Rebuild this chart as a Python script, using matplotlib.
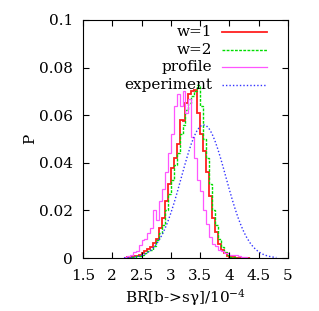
import numpy as np
import matplotlib
matplotlib.use("Agg")
import matplotlib.pyplot as plt
from matplotlib.lines import Line2D

plt.rcParams['font.family'] = ['DejaVu Serif']
plt.rcParams['mathtext.default'] = 'regular'
plt.rcParams['font.size'] = 11

#
# DATA
#

# histogram bins: left edge 2.20, width 0.05
bin_start = 2.20
bin_width = 0.05

w1 = [0.0002, 0.0003, 0.0005, 0.0007, 0.0010, 0.0015, 0.0022, 0.0030, 0.0040,
      0.0046, 0.0065, 0.0080, 0.0125, 0.0170, 0.0240, 0.0310, 0.0380, 0.0420,
      0.0480, 0.0580, 0.0575, 0.0650, 0.0690, 0.0700, 0.0705, 0.0610, 0.0520,
      0.0450, 0.0360, 0.0260, 0.0170, 0.0110, 0.0060, 0.0035, 0.0020, 0.0010,
      0.0005, 0.0003, 0.0002, 0.0001, 0.0, 0.0, 0.0]

w2 = [0.0001, 0.0002, 0.0003, 0.0005, 0.0007, 0.0010, 0.0015, 0.0020, 0.0028,
      0.0035, 0.0050, 0.0075, 0.0105, 0.0140, 0.0200, 0.0270, 0.0330, 0.0390,
      0.0440, 0.0520, 0.0560, 0.0620, 0.0650, 0.0680, 0.0700, 0.0725, 0.0640,
      0.0500, 0.0420, 0.0310, 0.0200, 0.0140, 0.0080, 0.0045, 0.0025, 0.0012,
      0.0006, 0.0003, 0.0002, 0.0001, 0.0, 0.0, 0.0]

profile = [0.0005, 0.0010, 0.0015, 0.0025, 0.0030, 0.0055, 0.0075, 0.0080,
           0.0105, 0.0125, 0.0200, 0.0160, 0.0240, 0.0290, 0.0360, 0.0440,
           0.0520, 0.0640, 0.0690, 0.0640, 0.0700, 0.0610, 0.0670, 0.0510,
           0.0420, 0.0330, 0.0280, 0.0200, 0.0145, 0.0090, 0.0060, 0.0050,
           0.0035, 0.0030, 0.0020, 0.0020, 0.0015, 0.0012, 0.0012, 0.0008,
           0.0006, 0.0004, 0.0002]

# experimental curve, sampled every 0.05 from 2.20 to 4.80
exp_x = [2.20, 2.25, 2.30, 2.35, 2.40, 2.45, 2.50, 2.55, 2.60, 2.65, 2.70,
         2.75, 2.80, 2.85, 2.90, 2.95, 3.00, 3.05, 3.10, 3.15, 3.20, 3.25,
         3.30, 3.35, 3.40, 3.45, 3.50, 3.55, 3.60, 3.65, 3.70, 3.75, 3.80,
         3.85, 3.90, 3.95, 4.00, 4.05, 4.10, 4.15, 4.20, 4.25, 4.30, 4.35,
         4.40, 4.45, 4.50, 4.55, 4.60, 4.65, 4.70, 4.75, 4.80]
exp_p = [0.00009, 0.00015, 0.00023, 0.00035, 0.00053, 0.00079, 0.00114,
         0.00164, 0.00230, 0.00318, 0.00432, 0.00577, 0.00758, 0.00977,
         0.01239, 0.01545, 0.01891, 0.02275, 0.02691, 0.03129, 0.03575,
         0.04015, 0.04431, 0.04807, 0.05125, 0.05370, 0.05531, 0.05598,
         0.05569, 0.05445, 0.05233, 0.04942, 0.04588, 0.04186, 0.03753,
         0.03307, 0.02864, 0.02438, 0.02040, 0.01678, 0.01356, 0.01077,
         0.00841, 0.00645, 0.00487, 0.00361, 0.00263, 0.00188, 0.00132,
         0.00092, 0.00062, 0.00042, 0.00027]

x_ticks = [1.5, 2, 2.5, 3, 3.5, 4, 4.5, 5]
x_labels = ["1.5", "2", "2.5", "3", "3.5", "4", "4.5", "5"]
y_ticks = [0, 0.02, 0.04, 0.06, 0.08, 0.1]
y_labels = ["0", "0.02", "0.04", "0.06", "0.08", "0.1"]

#
# PLOT
#

edges = bin_start + bin_width * np.arange(len(w1) + 1)

fig = plt.figure(figsize=(3.19, 3.11), dpi=100)
ax = fig.add_axes([0.260, 0.170, 0.643, 0.766])

red_style = dict(color="#ff2020", lw=1.3)
green_style = dict(color="#00dd00", lw=1.0, ls=(0, (2, 1)))
mag_style = dict(color="#ff55ff", lw=0.9)
blue_style = dict(color="#3333ff", lw=1.0, ls=(0, (1, 1.5)))

ax.stairs(w1, edges, **red_style)
ax.stairs(w2, edges, **green_style)
ax.stairs(profile, edges, **mag_style)
ax.plot(exp_x, exp_p, **blue_style)

ax.set_xlim(1.5, 5)
ax.set_ylim(0, 0.1)
ax.set_xticks(x_ticks, x_labels)
ax.set_yticks(y_ticks, y_labels)
ax.tick_params(direction="in", length=4, width=0.8, top=True, right=True)
ax.tick_params(axis="x", pad=8)
ax.tick_params(axis="y", pad=7)
for s in ax.spines.values():
    s.set_linewidth(0.8)

ax.set_ylabel("P")
ax.yaxis.set_label_coords(-0.225, 0.50)
ax.set_xlabel("BR[b->s\u03b3]/10$^{-4}$", labelpad=3)

# gnuplot style key: right-aligned text, then a line sample
labels = ["w=1", "w=2", "profile", "experiment"]
styles = [red_style, green_style, mag_style, blue_style]
for i, (lab, st) in enumerate(zip(labels, styles)):
    yy = 0.950 - i * 0.0745
    ax.text(0.629, yy, lab, transform=ax.transAxes, ha="right", va="center")
    ax.add_line(Line2D([0.678, 0.898], [yy, yy], transform=ax.transAxes, **st))

fig.savefig("out.png", dpi=100)
